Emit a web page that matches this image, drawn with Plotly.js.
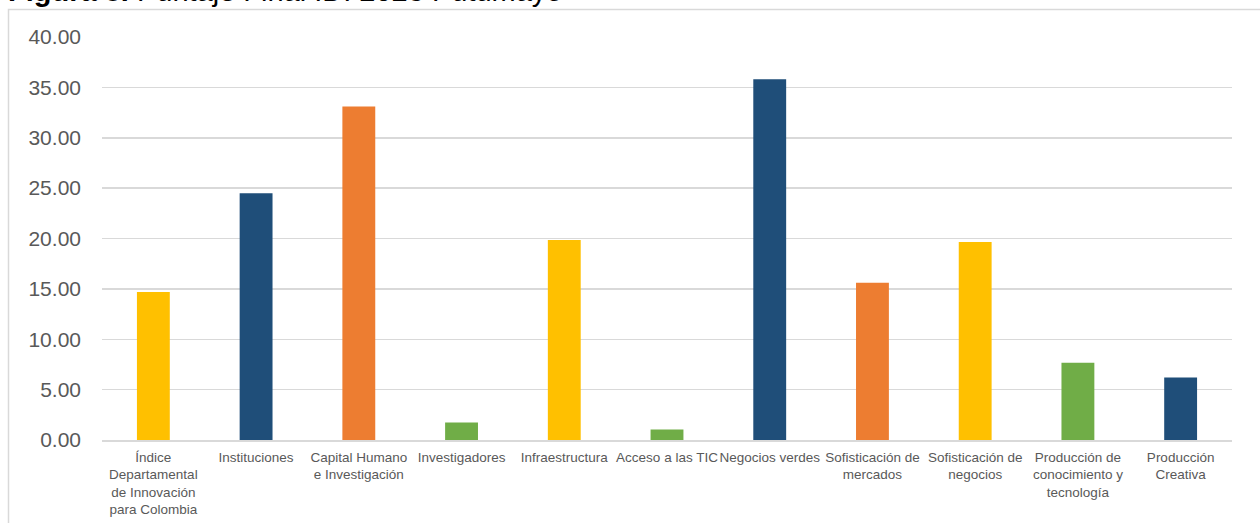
<!DOCTYPE html>
<html>
<head>
<meta charset="utf-8">
<script src="https://cdn.plot.ly/plotly-3.0.1.min.js"></script>
<style>
  html, body { margin: 0; padding: 0; background: #ffffff; }
  #chart { width: 1260px; height: 523px; }
</style>
</head>
<body>
<div id="chart"></div>
<script>
const categories = [
  "Índice Departamental de Innovación para Colombia",
  "Instituciones",
  "Capital Humano e Investigación",
  "Investigadores",
  "Infraestructura",
  "Acceso a las TIC",
  "Negocios verdes",
  "Sofisticación de mercados",
  "Sofisticación de negocios",
  "Producción de conocimiento y tecnología",
  "Producción Creativa"
];
const tickLabels = [
  "Índice<br>Departamental<br>de Innovación<br>para Colombia",
  "Instituciones",
  "Capital Humano<br>e Investigación",
  "Investigadores",
  "Infraestructura",
  "Acceso a las TIC",
  "Negocios verdes",
  "Sofisticación de<br>mercados",
  "Sofisticación de<br>negocios",
  "Producción de<br>conocimiento y<br>tecnología",
  "Producción<br>Creativa"
];
const scores = [14.70, 24.50, 33.10, 1.73, 19.85, 1.04, 35.80, 15.60, 19.65, 7.67, 6.20];
const barColors = ["#FFC000", "#1F4E79", "#ED7D31", "#70AD47", "#FFC000", "#70AD47",
                   "#1F4E79", "#ED7D31", "#FFC000", "#70AD47", "#1F4E79"];
const titleText = "<b>Figura 8.</b> Puntaje Final IDI 2023 Putumayo";

const W = 1260, H = 523;
const mL = 102, mR = 28, mT = 37, mB = 82.5;
const pw = W - mL - mR, ph = H - mT - mB;
const px = X => (X - mL) / pw;
const py = Y => (H - mB - Y) / ph;

const trace = {
  type: "bar",
  x: categories,
  y: scores,
  marker: { color: barColors, line: { width: 0 } },
  hoverinfo: "x+y"
};

const layout = {
  width: W, height: H,
  margin: { l: mL, r: mR, t: mT, b: mB, pad: 0 },
  paper_bgcolor: "#ffffff",
  plot_bgcolor: "#ffffff",
  showlegend: false,
  bargap: 0.68,
  font: { family: "Liberation Sans, Arial, sans-serif", color: "#595959" },
  xaxis: {
    type: "category",
    tickvals: categories,
    ticktext: tickLabels,
    tickangle: 0,
    tickfont: { size: 13.5, color: "#595959" },
    ticklabelstandoff: 4,
    showgrid: false,
    showline: true,
    linecolor: "#d9d9d9",
    linewidth: 1.5,
    ticks: "",
    automargin: false,
    fixedrange: true
  },
  yaxis: {
    range: [0, 40],
    dtick: 5,
    tick0: 0,
    tickformat: ".2f",
    tickfont: { size: 21, color: "#595959" },
    showgrid: true,
    gridcolor: "#d9d9d9",
    gridwidth: 1.5,
    zeroline: false,
    showline: false,
    ticks: "",
    ticklabelstandoff: 20,
    automargin: false,
    fixedrange: true
  },
  shapes: [
    {
      type: "rect", xref: "paper", yref: "paper",
      x0: px(8.5), x1: px(1275), y0: py(540), y1: py(9.5),
      line: { color: "#d9d9d9", width: 1.5 },
      fillcolor: "rgba(0,0,0,0)",
      layer: "below"
    }
  ],
  annotations: [
    {
      xref: "paper", yref: "paper",
      x: px(565), y: py(-9),
      xanchor: "right", yanchor: "middle",
      text: titleText,
      showarrow: false,
      font: { size: 29, color: "#000000", family: "Liberation Sans, Arial, sans-serif" }
    }
  ]
};

Plotly.newPlot("chart", [trace], layout, { displayModeBar: false, staticPlot: true });
</script>
</body>
</html>
